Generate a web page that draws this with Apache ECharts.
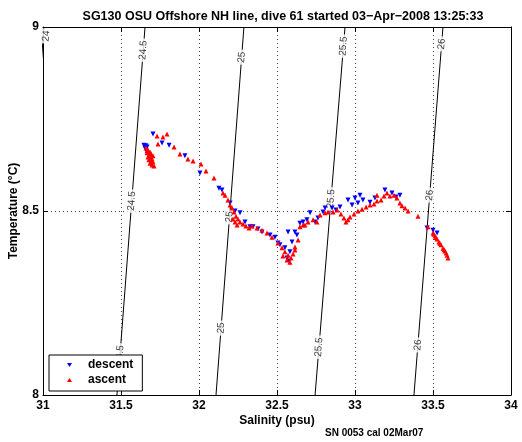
<!DOCTYPE html>
<html><head><meta charset="utf-8">
<script src="https://cdn.jsdelivr.net/npm/echarts@6.0.0/dist/echarts.min.js"></script>
<style>html,body{margin:0;padding:0;background:#fff}#c{width:522px;height:442px}</style>
</head><body><div id="c"></div>
<script>
const titleText = 'SG130 OSU Offshore NH line, dive 61 started 03\u2212Apr\u22122008 13:25:33';
const footText = 'SN 0053 cal 02Mar07';
const xName = 'Salinity (psu)';
const yName = 'Temperature (\u00B0C)';

// sigma-theta contours: salinity where each contour meets T=9 and T=8
const sigmaLevels = [24, 24.5, 25, 25.5, 26];
const sigmaSalTop = [31.006, 31.654, 32.288, 32.936, 33.564];
const sigmaSalBot = [30.830, 31.474, 32.109, 32.744, 33.378];
const sigmaLabelT = [[8.976], [8.937, 8.527, 8.109], [8.918, 8.484, 8.182], [8.948, 8.533, 8.130], [8.954, 8.543, 8.136]];

const descent = [
[31.647,8.679],[31.660,8.677],[31.654,8.671],[31.667,8.674],[31.660,8.666],
[31.705,8.709],[31.763,8.685],[31.808,8.679],[31.910,8.650],[32.006,8.603],
[32.128,8.562],[32.147,8.557],[32.199,8.522],[32.231,8.500],[32.263,8.495],
[32.295,8.470],[32.327,8.457],[32.346,8.457],[32.378,8.451],[32.404,8.443],
[32.455,8.435],[32.487,8.429],[32.506,8.413],[32.519,8.408],[32.571,8.443],
[32.615,8.443],[32.551,8.400],[32.583,8.389],[32.564,8.372],[32.577,8.364],[32.596,8.416],
[32.628,8.435],[32.647,8.467],[32.667,8.470],[32.692,8.476],[32.712,8.495],[32.744,8.470],
[32.763,8.481],[32.795,8.497],[32.808,8.508],[32.853,8.508],[32.878,8.503],
[32.904,8.511],[32.955,8.530],[32.981,8.516],[33.000,8.535],[33.032,8.543],
[33.019,8.522],[33.051,8.530],[33.096,8.524],[33.128,8.535],[33.192,8.557],
[33.237,8.549],[33.263,8.538],[33.288,8.543],[33.462,8.454],[33.500,8.448],[33.526,8.440]
];

const ascent = [
[31.660,8.671],[31.673,8.666],[31.686,8.660],[31.667,8.658],[31.679,8.652],[31.692,8.649],
[31.673,8.647],[31.686,8.644],[31.699,8.641],[31.679,8.639],[31.692,8.636],[31.705,8.633],
[31.686,8.630],[31.699,8.625],[31.712,8.622],[31.667,8.664],[31.692,8.656],[31.705,8.650],
[31.731,8.704],[31.769,8.701],[31.795,8.709],[31.737,8.682],[31.840,8.674],[31.878,8.655],
[31.929,8.641],[31.962,8.636],[32.013,8.628],[32.045,8.609],[32.096,8.590],[32.154,8.549],
[32.167,8.543],[32.186,8.530],[32.199,8.516],[32.212,8.508],[32.224,8.497],[32.237,8.486],
[32.250,8.478],[32.263,8.470],[32.282,8.465],[32.301,8.459],[32.321,8.454],[32.340,8.459],
[32.218,8.478],[32.231,8.470],[32.244,8.462],
[32.372,8.454],[32.404,8.448],[32.436,8.440],[32.468,8.429],[32.506,8.413],[32.532,8.400],
[32.551,8.389],[32.538,8.378],[32.571,8.380],[32.564,8.367],[32.590,8.372],[32.603,8.383],
[32.583,8.361],[32.615,8.394],[32.615,8.402],[32.635,8.421],[32.647,8.457],[32.667,8.462],
[32.679,8.462],[32.699,8.470],[32.731,8.476],[32.756,8.470],[32.776,8.489],[32.808,8.495],
[32.827,8.497],[32.859,8.497],[32.885,8.503],[32.910,8.492],[32.929,8.481],[32.942,8.470],
[32.955,8.476],[32.968,8.484],[32.994,8.492],[33.019,8.500],[33.045,8.505],[33.071,8.511],
[33.096,8.516],[33.122,8.519],[33.141,8.527],[33.141,8.543],[33.167,8.530],[33.186,8.541],
[33.205,8.549],[33.224,8.541],[33.250,8.543],[33.269,8.535],[33.288,8.522],[33.301,8.514],
[33.321,8.508],[33.340,8.500],[33.404,8.486],[33.468,8.457],
[33.500,8.440],[33.513,8.432],[33.526,8.424],[33.538,8.416],[33.551,8.408],[33.564,8.399],
[33.577,8.391],[33.590,8.380],[33.596,8.372],[33.506,8.437],[33.519,8.428],[33.545,8.412],
[33.571,8.395],[33.584,8.386]
];

const FONT = 'Liberation Sans, Arial, Helvetica, sans-serif';
const chart = echarts.init(document.getElementById('c'), null, {renderer: 'canvas'});

const contourSeries = sigmaLevels.map((lev, i) => ({
  type: 'line', name: 'sigma' + lev, silent: true, symbol: 'none', z: 2, clip: true,
  lineStyle: {color: '#000', width: 1},
  data: [[sigmaSalTop[i], 9], [sigmaSalBot[i], 8]]
}));

const labelData = [];
sigmaLevels.forEach((lev, i) => {
  sigmaLabelT[i].forEach(t => {
    const s = sigmaSalTop[i] + (sigmaSalBot[i] - sigmaSalTop[i]) * (9 - t);
    const item = {value: [s, t], name: String(lev)};
    if (lev === 24) item.label = {offset: [0, 3]};
    labelData.push(item);
  });
});

const option = {
  animation: false,
  backgroundColor: '#fff',
  title: {
    text: titleText, left: 278, top: 5, textAlign: 'center',
    textStyle: {fontFamily: FONT, fontWeight: 'bold', fontSize: 12.5, color: '#000'}
  },
  grid: {left: 43, right: 11, top: 27, bottom: 47, containLabel: false, outerBoundsMode: 'none'},
  legend: {
    data: [
      {name: 'descent', icon: 'path://M0,0 L10,0 L5,8 Z'},
      {name: 'ascent', icon: 'path://M5,0 L10,8 L0,8 Z'}
    ],
    orient: 'vertical', left: 49, top: 355,
    backgroundColor: '#fff', borderColor: '#000', borderWidth: 1, borderRadius: 0,
    padding: [4, 9, 5, 18], itemGap: 3, itemWidth: 5, itemHeight: 4,
    itemStyle: {opacity: 1},
    textStyle: {fontFamily: FONT, fontWeight: 'bold', fontSize: 12, color: '#000', padding: [0, 0, 0, 11]}
  },
  xAxis: [{
    type: 'value', min: 31, max: 34, interval: 0.5, position: 'bottom',
    axisLine: {show: true, onZero: false, lineStyle: {color: '#000', width: 1}},
    axisTick: {show: true, inside: true, length: 5, lineStyle: {color: '#000'}},
    axisLabel: {color: '#000', fontFamily: FONT, fontWeight: 'bold', fontSize: 12, margin: 5, showMinLabel: true, showMaxLabel: true},
    splitLine: {show: true, lineStyle: {color: '#444', type: [1, 3], width: 1}},
    name: xName, nameLocation: 'middle', nameGap: 20, nameMoveOverlap: false,
    nameTextStyle: {fontFamily: FONT, fontWeight: 'bold', fontSize: 12, color: '#000'}
  }, {
    type: 'value', min: 31, max: 34, interval: 0.5, position: 'top',
    axisLine: {show: true, onZero: false, lineStyle: {color: '#000', width: 1}},
    axisTick: {show: true, inside: true, length: 5, lineStyle: {color: '#000'}},
    axisLabel: {show: false}, splitLine: {show: false}
  }],
  yAxis: [{
    type: 'value', min: 8, max: 9, interval: 0.5, position: 'left',
    axisLine: {show: true, onZero: false, lineStyle: {color: '#000', width: 1}},
    axisTick: {show: true, inside: true, length: 5, lineStyle: {color: '#000'}},
    axisLabel: {color: '#000', fontFamily: FONT, fontWeight: 'bold', fontSize: 12, margin: 4, showMinLabel: true, showMaxLabel: true},
    splitLine: {show: true, lineStyle: {color: '#444', type: [1, 3], width: 1}},
    name: yName, nameLocation: 'middle', nameGap: 23, nameMoveOverlap: false,
    nameTextStyle: {fontFamily: FONT, fontWeight: 'bold', fontSize: 12, color: '#000'}
  }, {
    type: 'value', min: 8, max: 9, interval: 0.5, position: 'right',
    axisLine: {show: true, onZero: false, lineStyle: {color: '#000', width: 1}},
    axisTick: {show: true, inside: true, length: 5, lineStyle: {color: '#000'}},
    axisLabel: {show: false}, splitLine: {show: false}
  }],
  series: contourSeries.concat([
    {
      type: 'scatter', name: 'contourLabels', silent: true, z: 3,
      symbolSize: 0, itemStyle: {color: 'rgba(0,0,0,0)'},
      label: {
        show: true, position: 'inside', formatter: p => p.name, rotate: 85.5,
        fontFamily: FONT, fontSize: 10, color: '#000', backgroundColor: '#fff', padding: [0, 2]
      },
      data: labelData
    },
    {
      type: 'scatter', name: 'descent', z: 4, symbol: 'triangle', symbolRotate: 180, symbolSize: 5,
      itemStyle: {color: '#0000ff', opacity: 1}, data: descent
    },
    {
      type: 'scatter', name: 'ascent', z: 5, symbol: 'triangle', symbolSize: 5,
      itemStyle: {color: '#ff0000', opacity: 1}, data: ascent
    }
  ]),
  graphic: [{
    type: 'text', left: 325, top: 428,
    style: {text: footText, fontFamily: FONT, fontWeight: 'bold', fontSize: 10, fill: '#000'}
  }]
};
chart.setOption(option);
</script>
</body></html>
